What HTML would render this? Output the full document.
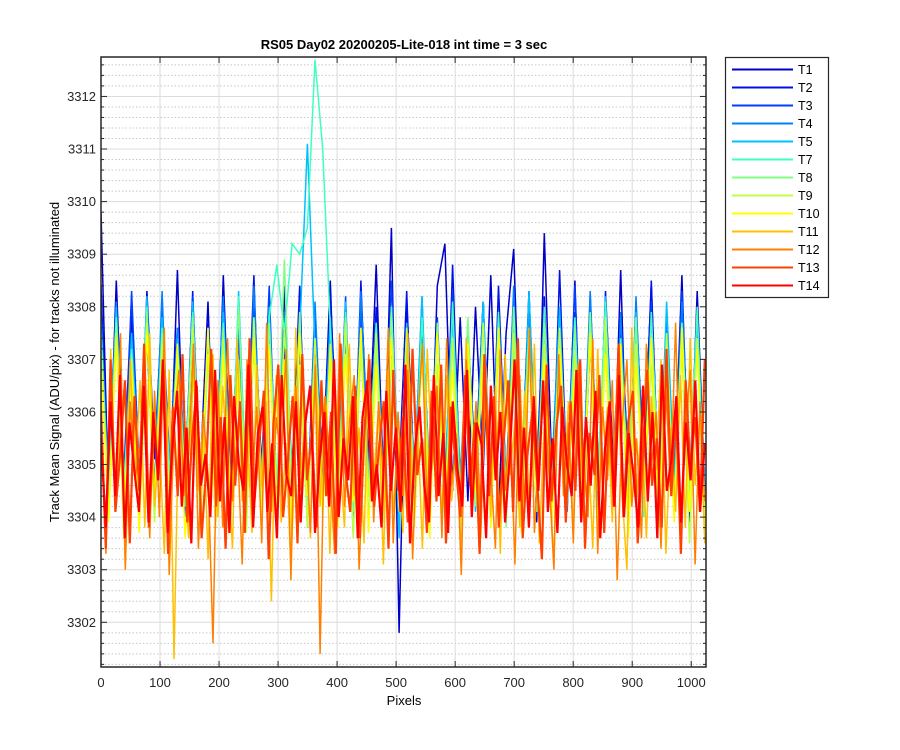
<!DOCTYPE html>
<html><head><meta charset="utf-8"><style>
body{margin:0;background:#fff;}
svg{display:block;font-family:"Liberation Sans",Arial,sans-serif;}
</style></head><body>
<svg id="chart" width="900" height="750">
<rect x="0" y="0" width="900" height="750" fill="#fff"/>
<rect x="101" y="57" width="605" height="610" fill="#fff"/>
<g id="grid"></g>
<g id="series"></g>
<g id="axes"></g>
<text x="404" y="49" text-anchor="middle" font-size="13" font-weight="bold">RS05 Day02 20200205-Lite-018 int time = 3 sec</text>
<text x="404" y="705" text-anchor="middle" font-size="13">Pixels</text>
<text transform="translate(59,362) rotate(-90)" text-anchor="middle" font-size="13">Track Mean Signal (ADU/pix) - for tracks not illuminated</text>
<g id="legend"></g>
</svg>
<script>
const names=["T1","T2","T3","T4","T5","T7","T8","T9","T10","T11","T12","T13","T14"];
const colors=["#0000c8","#0010e8","#0040ff","#0080ff","#00c0ff","#40ffc0","#80ff80","#c0ff40","#ffff00","#ffc000","#ff8000","#ff4000","#ff0000"];
const xTicks=[0,100,200,300,400,500,600,700,800,900,1000];
const yTicks=[3302,3303,3304,3305,3306,3307,3308,3309,3310,3311,3312];
// values in 0.1 ADU above 3300
const T1=[98,42,85,47,79,40,83,52,75,44,87,41,78,49,81,38,86,46,74,43,80,50,77,39,84,45,82,41,76,48,85,42,79,37,83,51,88,44,95,18,81,47,77,40,84,92,45,78,43,80,49,86,41,75,91,46,83,39,94,48,79,44,85,40,82,47,76,42,87,38,80,50,84,43,78,46,86,41,83,45];
const T2=[84,44,78,48,82,40,76,51,80,43,74,46,83,39,77,50,81,42,75,47,86,41,79,45,73,49,84,38,78,44,82,52,76,41,85,46,80,43,74,48,83,40,79,47,77,42,88,45,75,50,81,39,84,46,78,43,76,49,82,41,87,44,79,47,74,40,83,51,77,43,80,46,85,42,76,48,81,39,78,45];
const T3=[80,45,77,41,83,48,74,43,79,50,76,40,82,46,73,44,81,49,78,42,75,47,84,41,72,45,80,43,77,50,74,46,82,39,79,44,76,48,85,42,73,47,80,41,78,45,83,43,75,49,81,40,77,46,74,44,82,48,79,42,76,47,84,41,73,45,80,43,78,50,75,46,81,42,77,44,83,47,76,43];
const T4=[78,43,81,47,74,40,79,45,83,42,76,49,80,41,73,46,82,44,77,39,84,48,75,43,79,46,72,41,81,47,78,44,75,40,83,49,76,42,80,45,74,47,82,41,77,43,79,48,73,44,81,40,76,46,84,42,78,45,74,49,80,41,77,44,83,47,75,43,79,40,82,46,76,44,78,42,81,48,74,45];
const T5=[77,44,80,41,75,47,82,43,78,40,74,46,81,42,76,48,79,41,83,44,73,46,80,42,77,49,75,111,72,43,78,45,81,41,76,47,74,43,80,36,77,45,82,42,75,48,79,44,73,41,81,46,76,43,78,40,83,47,74,44,80,42,77,46,75,41,82,48,73,45,79,43,76,40,81,47,74,44,78,42];
const T7=[75,43,78,46,72,41,80,44,76,48,73,42,79,45,71,47,77,43,82,40,74,46,78,88,75,92,90,95,127,110,76,44,79,41,73,47,77,43,80,45,72,42,78,46,75,40,81,44,74,47,77,42,79,45,73,48,76,41,80,44,72,46,78,43,75,47,81,42,74,45,77,40,79,46,73,43,76,44,80,42];
const T8=[74,41,77,44,71,46,79,40,75,43,72,47,78,42,70,45,76,39,80,44,73,41,77,46,89,43,79,40,74,45,71,42,78,47,75,39,72,44,79,41,76,46,70,43,77,40,74,45,78,42,71,47,75,38,80,44,73,41,77,46,72,43,76,40,79,45,74,42,71,47,78,41,75,44,73,40,77,46,72,43];
const T9=[72,40,75,36,70,43,77,39,73,42,69,45,76,38,71,41,74,44,70,37,78,42,73,40,76,45,69,38,74,43,71,40,77,36,72,44,75,39,70,42,76,38,73,45,69,41,74,37,71,43,77,40,72,44,75,38,70,42,73,39,76,45,71,40,74,36,78,43,70,41,73,44,69,38,75,42,72,35,74,40];
const T10=[71,39,74,42,68,37,75,44,70,40,73,36,69,43,76,38,71,41,67,45,74,39,72,42,70,36,75,44,68,40,73,38,71,43,76,37,69,41,74,44,70,39,72,36,75,42,68,40,73,45,71,38,76,41,69,37,74,43,70,39,72,44,67,40,75,38,71,42,73,36,69,45,74,40,70,39,76,41,72,38];
const T11=[64,35,72,44,58,31,70,47,66,38,75,42,55,33,68,13,61,49,36,73,45,59,32,71,40,65,50,34,74,43,57,37,69,46,62,24,67,39,54,30,76,48,60,36,71,42,63,33,66,51,38,73,44,57,35,70,47,61,31,68,41,55,37,75,45,59,34,72,49,63,39,67,43,56,32,74,46,60,36,69,40,65,33,71,48,58,38,64,42,73,35,57,50,31,70,44,62,37,66,41,55,34,72,47,61,39,68,45,30,76,43,59,36,63,49,70,33,57,41,67,38,74,46,60,35];
const T12=[58,33,69,42,75,30,62,47,54,71,36,64,40,76,29,57,68,44,52,73,34,60,48,16,66,38,74,43,55,31,70,46,61,35,77,41,59,50,72,28,65,45,56,37,69,14,63,49,33,75,42,58,67,30,53,71,39,62,47,76,35,60,44,68,32,57,73,40,51,65,36,74,46,55,29,70,43,62,38,66,50,34,72,45,59,31,67,41,76,37,54,63,48,30,71,44,58,35,69,52,40,74,33,61,47,66,28,57,70,42,55,36,73,49,60,34,64,45,77,39,56,68,31,62,43];
const T13=[60,34,70,41,52,66,35,63,45,73,38,57,48,68,33,61,44,71,39,55,65,36,50,72,42,59,34,67,46,62,37,74,43,54,64,32,58,69,40,51,63,35,71,47,56,38,66,44,60,33,73,49,41,65,36,57,70,42,53,62,34,68,45,59,39,72,48,55,37,64,43,69,35,61,50,40,67,46,58,33,71,44,63,38,54,66,41,74,36,52,60,47,32,69,43,57,65,39,62,45,70,34,56,48,67,37,61,42,73,40,58,64,35,51,68,46,55,38,72,44,60,33,66,49,59,41,70];
const T14=[55,38,62,44,67,36,58,49,41,65,39,60,47,70,37,53,64,42,57,35,66,46,52,40,68,43,59,37,63,50,45,69,38,56,61,41,54,36,67,48,44,62,39,58,65,37,51,60,42,70,40,55,47,63,36,59,66,43,50,38,64,45,57,41,69,35,53,61,46,39,67,44,56,37,62,49,42,68,40,58,54,36,65,47,60,39,52,70,43,57,38,63,45,66,41,55,37,61,50,44,68,39,59,46,64,36,53,62,42,67,40,56,48,38,65,43,60,36,69,45,51,63,39,58,47,66,41,54];
const seriesData=[T1,T2,T3,T4,T5,T7,T8,T9,T10,T11,T12,T13,T14];
const X0=101,X1=706,Y0=57,Y1=667,XMIN=0,XMAX=1025,YMIN=3301.15,YMAX=3312.75;
const sx=v=>X0+(v-XMIN)/(XMAX-XMIN)*(X1-X0);
const sy=v=>Y1-(v-YMIN)/(YMAX-YMIN)*(Y1-Y0);
const NS="http://www.w3.org/2000/svg";
function mk(tag,attrs,parent){const e=document.createElementNS(NS,tag);for(const k in attrs)e.setAttribute(k,attrs[k]);parent.appendChild(e);return e;}
const grid=document.getElementById('grid'),axes=document.getElementById('axes'),ser=document.getElementById('series'),leg=document.getElementById('legend');
for(let k=Math.ceil(YMIN*5);k<=YMAX*5;k++){const v=k/5;if(Math.abs(v-Math.round(v))<1e-6)continue;
 const l=mk('line',{x1:X0,x2:X1,y1:sy(v),y2:sy(v),stroke:'#c8c8c8','stroke-dasharray':'1.5 2','stroke-width':1},grid);
 
 
 mk('line',{x1:X0,x2:X0+3,y1:sy(v),y2:sy(v),stroke:'#262626'},axes);
 mk('line',{x1:X1,x2:X1-3,y1:sy(v),y2:sy(v),stroke:'#262626'},axes);}
yTicks.forEach(v=>{const l=mk('line',{x1:X0,x2:X1,y1:sy(v),y2:sy(v),stroke:'#dcdcdc','stroke-width':1},grid);
 
 
 mk('line',{x1:X0,x2:X0+6,y1:sy(v),y2:sy(v),stroke:'#262626'},axes);
 mk('line',{x1:X1,x2:X1-6,y1:sy(v),y2:sy(v),stroke:'#262626'},axes);
 const t=mk('text',{x:X0-5,y:sy(v)+4.5,'text-anchor':'end','font-size':13,fill:'#262626'},axes);t.textContent=v;
 
 });
xTicks.forEach(v=>{const l=mk('line',{x1:sx(v),x2:sx(v),y1:Y0,y2:Y1,stroke:'#dcdcdc','stroke-width':1},grid);
 
 
 mk('line',{x1:sx(v),x2:sx(v),y1:Y1,y2:Y1-6,stroke:'#262626'},axes);
 mk('line',{x1:sx(v),x2:sx(v),y1:Y0,y2:Y0+6,stroke:'#262626'},axes);
 const t=mk('text',{x:sx(v),y:Y1+20,'text-anchor':'middle','font-size':13,fill:'#262626'},axes);t.textContent=v;
 
 });
const box=mk('rect',{x:X0,y:Y0,width:X1-X0,height:Y1-Y0,fill:'none',stroke:'#262626','stroke-width':1.5},axes);


const cp=mk('clipPath',{id:'clip'},ser);mk('rect',{x:X0,y:Y0,width:X1-X0,height:Y1-Y0},cp);
seriesData.forEach((arr,si)=>{const n=arr.length;
 const pts=arr.map((v,i)=>sx(i*1023/(n-1)).toFixed(1)+','+sy(3300+v/10).toFixed(1)).join(' ');
 const p=mk('polyline',{points:pts,fill:'none',stroke:colors[si],'stroke-width':si>=11?2.2:1.5,'clip-path':'url(#clip)','stroke-linejoin':'miter'},ser);
 
 });
const lb=mk('rect',{x:725.5,y:57.5,width:103,height:240,fill:'#fff',stroke:'#262626','stroke-width':1.2},leg);


names.forEach((nm,i)=>{const y=69.5+i*18;
 const g=mk('g',{},leg);
 
 
 mk('line',{x1:732,x2:793,y1:y,y2:y,stroke:colors[i],'stroke-width':2},g);
 const t=mk('text',{x:798,y:y+4.5,'font-size':12.5,fill:'#000'},g);t.textContent=nm;});
</script>
</body></html>
